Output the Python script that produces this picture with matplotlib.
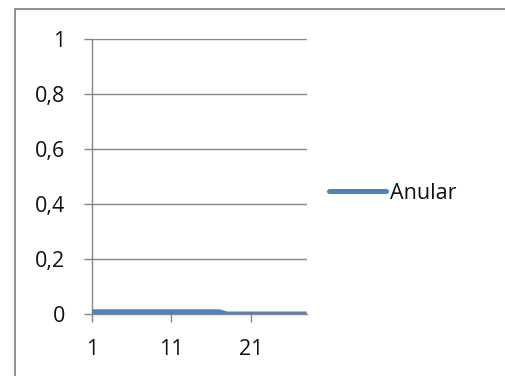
import numpy as np
import matplotlib.pyplot as plt
from matplotlib.patches import Rectangle

# series
dias = list(range(1, 29))
anular = [0.008] * 17 + [0.0] * 11
serie = "Anular"

y_ticks = [0, 0.2, 0.4, 0.6, 0.8, 1]
y_labels = ["0", "0,2", "0,4", "0,6", "0,8", "1"]
x_ticks = [1, 11, 21]
x_labels = ["1", "11", "21"]

azul = "#4F81BD"
cinza = "#878787"
fs = 15.5

plt.rcParams["font.family"] = ["Open Sans", "DejaVu Sans"]

fig = plt.figure(figsize=(5.05, 3.76), dpi=100)
ax = fig.add_axes([0.1816, 0.1649, 0.4257, 0.7314])

ax.plot(dias, anular, color=azul, lw=3.6, solid_capstyle="butt", label=serie, zorder=3)

ax.set_xlim(1, 28)
ax.set_ylim(0, 1)
ax.set_yticks(y_ticks)
ax.set_yticklabels(y_labels)
ax.set_xticks(x_ticks)
ax.set_xticklabels(x_labels)

ax.grid(axis="y", color=cinza, lw=1.0)
ax.set_axisbelow(True)
for lado in ["top", "right"]:
    ax.spines[lado].set_visible(False)
for lado in ["left", "bottom"]:
    ax.spines[lado].set_color(cinza)
    ax.spines[lado].set_linewidth(1.0)
ax.tick_params(axis="both", color=cinza, width=1.0, length=6, labelsize=fs,
               labelcolor="#111111")
ax.tick_params(axis="y", pad=13)
ax.tick_params(axis="x", pad=12)

leg = fig.legend(loc="center left", bbox_to_anchor=(0.651, 0.486), frameon=False,
                 fontsize=fs, handlelength=2.65, handletextpad=0.2,
                 borderpad=0, borderaxespad=0)
for t in leg.get_texts():
    t.set_color("#111111")
for h in leg.get_lines():
    h.set_solid_capstyle("round")

# moldura do gráfico
fig.patches.append(Rectangle((15 / 505, -0.1), 1.2, 1 - 9 / 376 + 0.1,
                             transform=fig.transFigure, fill=False,
                             edgecolor=cinza, lw=1.3))

fig.savefig("out.png", dpi=100)
